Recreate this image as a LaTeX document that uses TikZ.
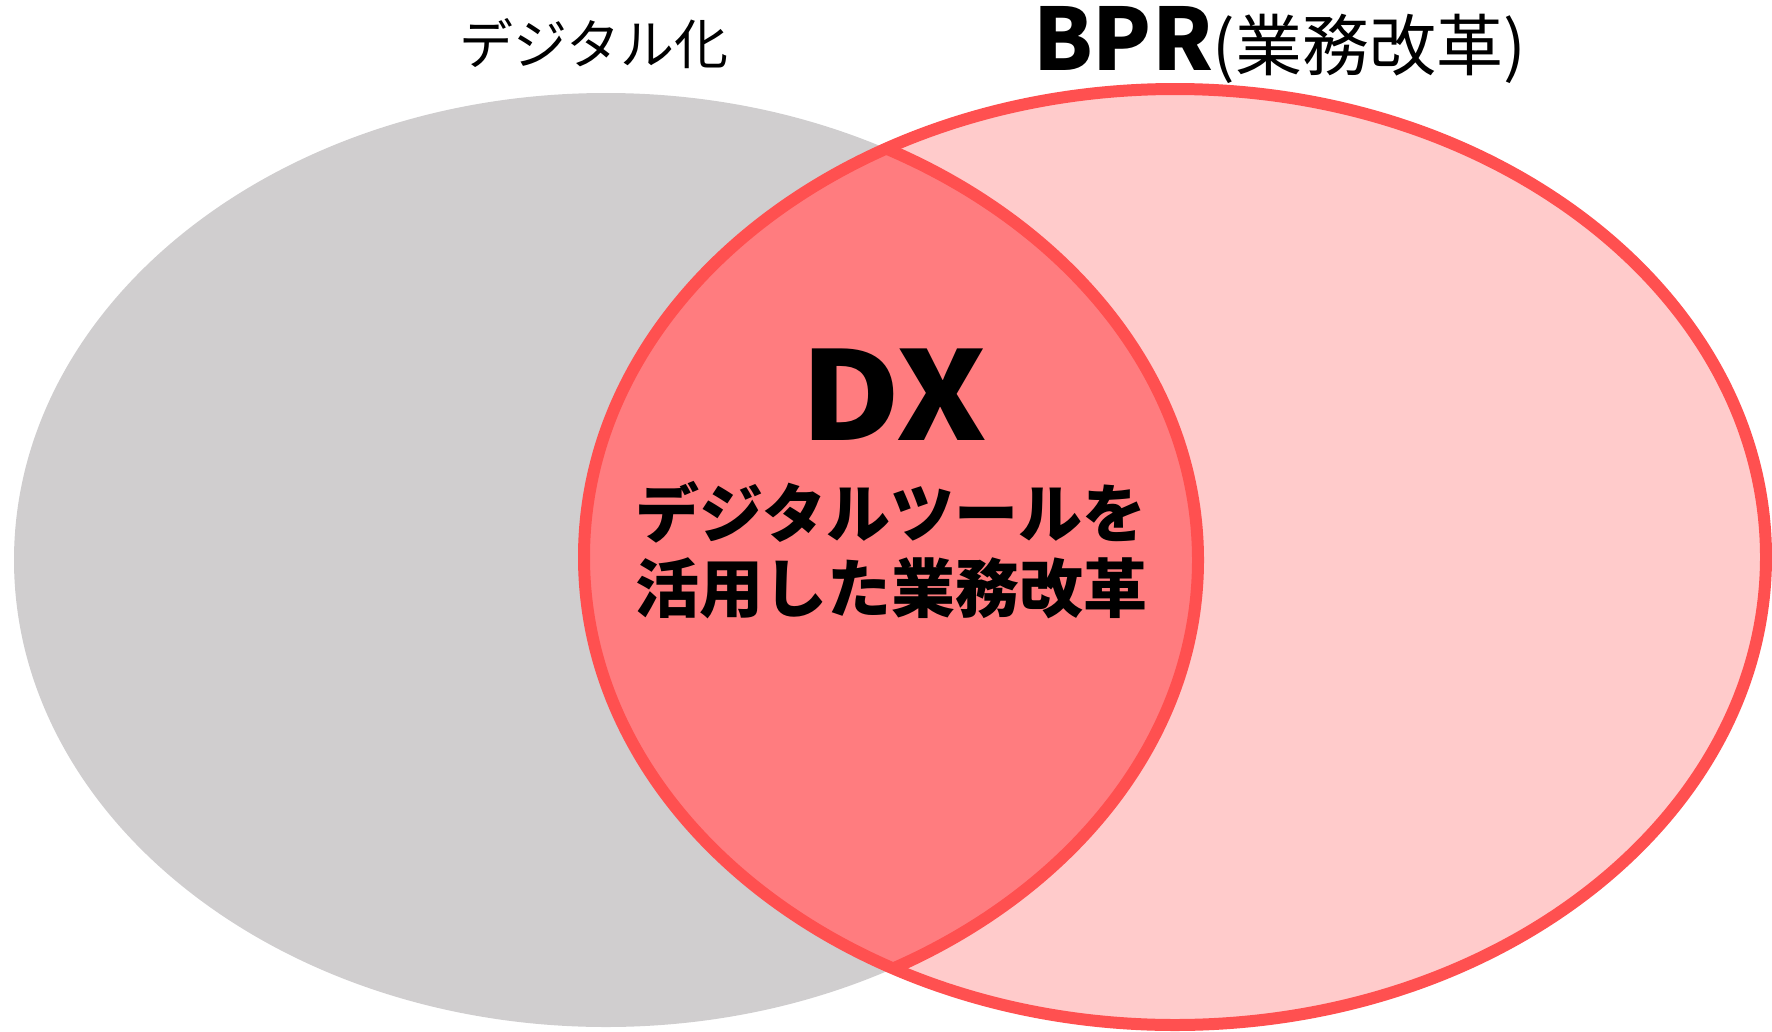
\documentclass[tikz,border=0pt]{standalone}
\usepackage{fontspec}
\newfontfamily\jp{Noto Sans CJK JP}
\newfontfamily\jpwide{Noto Sans CJK JP}[FakeStretch=1.12]
\definecolor{greyfill}{HTML}{D0CECF}
\definecolor{pinkfill}{HTML}{FFCBCB}
\definecolor{lensfill}{HTML}{FF7C7F}
\definecolor{redline}{HTML}{FF5050}
\begin{document}
\begin{tikzpicture}[x=1pt,y=-1pt,
  outline/.style={draw=redline,line width=12pt},
  lbl/.style={inner sep=0pt,font=\jp}]
\useasboundingbox (0,0) rectangle (1772,1031);
\def\leftell{(606,560) ellipse [x radius=592, y radius=467]}
\def\rightell{(1175,557) ellipse [x radius=591, y radius=468]}
\fill[greyfill] \leftell;
\fill[pinkfill] \rightell;
\begin{scope}
  \clip \rightell;
  \fill[lensfill] \leftell;
  \draw[outline] \leftell;
\end{scope}
\draw[outline] \rightell;
\node[lbl,font=\jp\fontsize{54}{60}\selectfont] (dig) at (594,44) {デジタル化};
\node[lbl,anchor=base west] (bpr) at (1033,70) {\fontsize{86}{90}\selectfont\bfseries BPR\fontsize{67}{70}\selectfont\mdseries(業務改革)};
\node[lbl,font=\jpwide\bfseries\fontsize{123}{130}\selectfont] (dx) at (894,395) {DX};
\node[lbl,font=\jp\bfseries\fontsize{64}{70}\selectfont] (l1) at (891,512) {デジタルツールを};
\node[lbl,font=\jp\bfseries\fontsize{64}{70}\selectfont] (l2) at (891,588) {活用した業務改革};
\end{tikzpicture}
\end{document}
